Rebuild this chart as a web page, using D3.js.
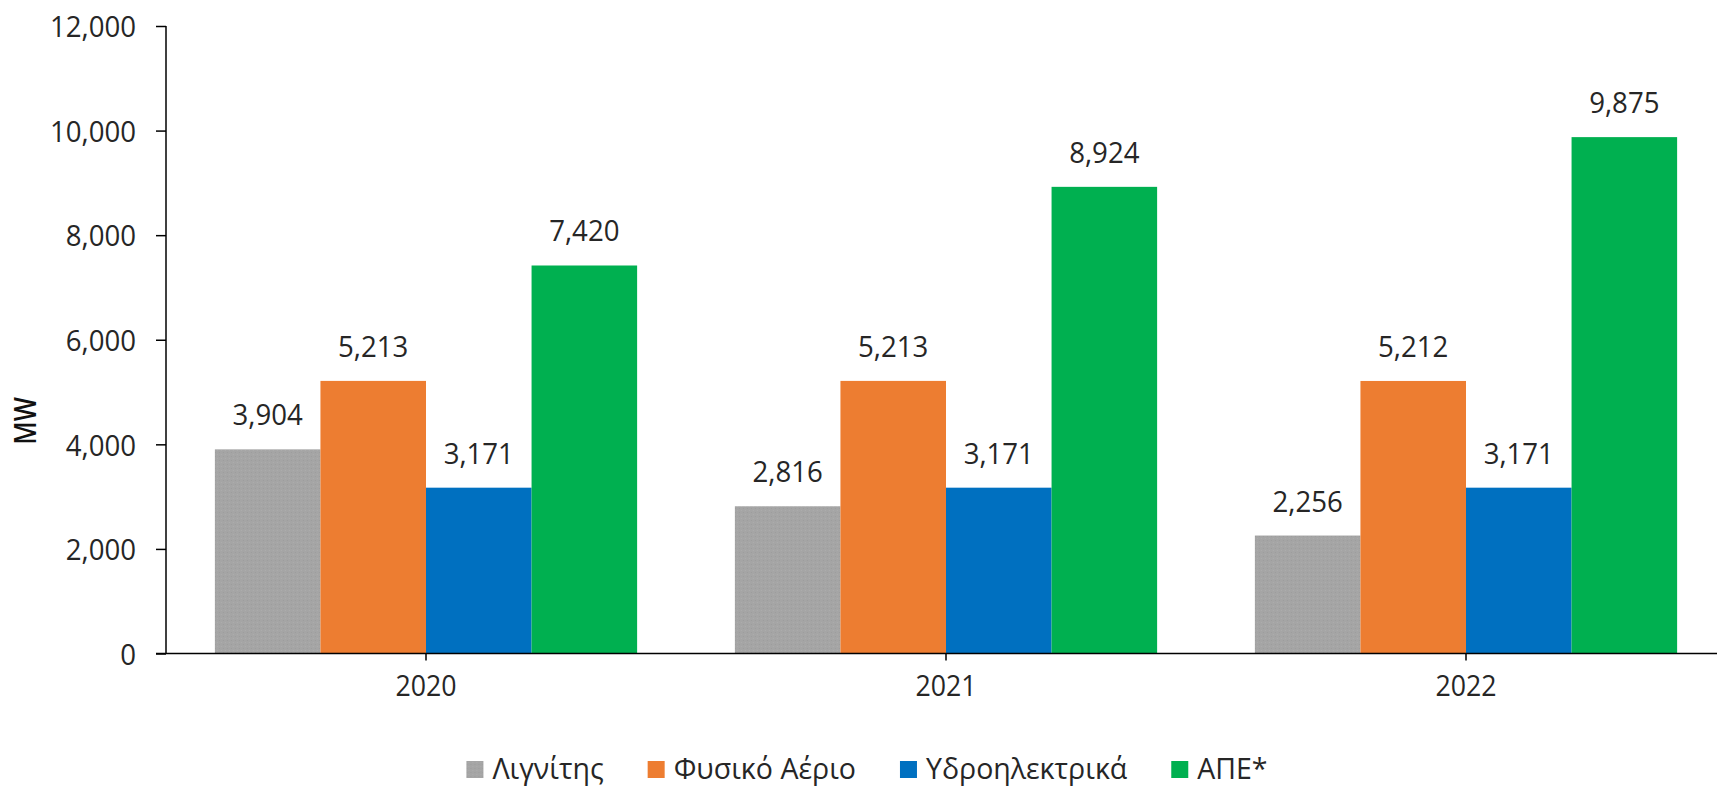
<!DOCTYPE html>
<html>
<head>
<meta charset="utf-8">
<script src="https://cdn.jsdelivr.net/npm/d3@7"></script>
<style>
  html, body { margin: 0; padding: 0; background: #fff; }
  svg { display: block; }
</style>
</head>
<body>
<svg id="chart" width="1717" height="788"></svg>
<script>
// ---- data ----
const years = ["2020", "2021", "2022"];
const seriesNames = ["Λιγνίτης", "Φυσικό Αέριο", "Υδροηλεκτρικά", "ΑΠΕ*"];
const lignite = [3904, 2816, 2256];
const naturalGas = [5213, 5213, 5212];
const hydro = [3171, 3171, 3171];
const renewables = [7420, 8924, 9875];
const seriesColors = ["#A5A5A5", "#ED7D31", "#0070C0", "#00B050"];
const yTicks = [0, 2000, 4000, 6000, 8000, 10000, 12000];
const yTitle = "MW";

const seriesValues = [lignite, naturalGas, hydro, renewables];

(function () {
// ---- layout ----
const svg = d3.select("#chart");
const pLeft = 166, pRight = 1726, pTop = 26, pBottom = 653.5;
const squeeze = 0.89;
const font = "'Open Sans', 'Noto Sans', sans-serif";
const textColor = "#262626";

function condense(sel, f) {
  sel.each(function () {
    const len = this.getComputedTextLength();
    d3.select(this).attr("textLength", len * f).attr("lengthAdjust", "spacingAndGlyphs");
  });
}

const x0 = d3.scaleBand().domain(years).range([pLeft, pRight]).paddingInner(0.188).paddingOuter(0.094);
const x1 = d3.scaleBand().domain(seriesNames).range([0, x0.bandwidth()]).padding(0);
const y = d3.scaleLinear().domain([0, 12000]).range([pBottom, pTop]);

// texture pattern for the grey bars
const defs = svg.append("defs");
const pat = defs.append("pattern").attr("id", "greyTex").attr("patternUnits", "userSpaceOnUse")
  .attr("width", 4).attr("height", 4);
pat.append("rect").attr("width", 4).attr("height", 4).attr("fill", seriesColors[0]);
pat.append("rect").attr("x", 0).attr("y", 0).attr("width", 1).attr("height", 1).attr("fill", "#9c9c9c");
pat.append("rect").attr("x", 2).attr("y", 2).attr("width", 1).attr("height", 1).attr("fill", "#adadad");

// ---- bars ----
const groups = svg.append("g").selectAll("g").data(years).join("g")
  .attr("transform", d => `translate(${x0(d)},0)`);

groups.each(function (yr, yi) {
  const g = d3.select(this);
  const rows = seriesNames.map((s, si) => ({ s, si, v: seriesValues[si][yi] }));
  g.selectAll("rect").data(rows).join("rect")
    .attr("x", d => x1(d.s))
    .attr("y", d => y(d.v))
    .attr("width", x1.bandwidth())
    .attr("height", d => y(0) - y(d.v))
    .attr("fill", d => d.si === 0 ? "url(#greyTex)" : seriesColors[d.si]);
  g.selectAll("text.lbl").data(rows).join("text")
    .attr("class", "lbl")
    .attr("x", d => x1(d.s) + x1.bandwidth() / 2)
    .attr("y", d => y(d.v) - 24)
    .attr("text-anchor", "middle")
    .attr("font-family", font)
    .attr("font-size", 30)
    .attr("fill", textColor)
    .text(d => d3.format(",")(d.v))
    .call(condense, 0.92);
});

// ---- y axis ----
const yAxis = svg.append("g").attr("transform", `translate(${pLeft},0)`)
  .call(d3.axisLeft(y).tickValues(yTicks).tickFormat(d3.format(",")).tickSize(10).tickPadding(20));
yAxis.select(".domain").attr("stroke", "#000").attr("stroke-width", 1.5).attr("d", `M0,${pTop}V${pBottom}`);
yAxis.selectAll(".tick line").attr("stroke", "#000").attr("stroke-width", 1.5);
yAxis.selectAll(".tick text").attr("font-family", font).attr("font-size", 30).attr("fill", textColor)
  .attr("dy", "0.36em").call(condense, 0.92);

// ---- x axis ----
const xAxis = svg.append("g").attr("transform", `translate(0,${pBottom})`)
  .call(d3.axisBottom(x0).tickSize(7).tickSizeOuter(0).tickPadding(14));
xAxis.select(".domain").attr("stroke", "#000").attr("stroke-width", 1.5).attr("d", `M${pLeft - 10},0H${pRight}`);
xAxis.selectAll(".tick line").attr("stroke", "#000").attr("stroke-width", 1.5);
xAxis.selectAll(".tick text").attr("font-family", font).attr("font-size", 30).attr("fill", textColor)
  .attr("dy", "0.71em").call(condense, squeeze);

// ---- y title ----
svg.append("text")
  .attr("transform", `translate(36,421) rotate(-90)`)
  .attr("text-anchor", "middle")
  .attr("font-family", font)
  .attr("font-size", 30)
  .attr("font-weight", 600)
  .attr("fill", "#111")
  .text(yTitle)
  .call(condense, 0.85);

// ---- legend ----
const legend = svg.append("g");
const items = legend.selectAll("g").data(seriesNames).join("g");
items.append("rect").attr("width", 17).attr("height", 17).attr("y", 761)
  .attr("fill", (d, i) => i === 0 ? "url(#greyTex)" : seriesColors[i]);
items.append("text").attr("x", 26).attr("y", 779)
  .attr("font-family", font).attr("font-size", 30).attr("fill", textColor)
  .text(d => d)
  .call(condense, 0.95);
const widths = [];
items.each(function () {
  const t = d3.select(this).select("text");
  const w = +t.attr("textLength");
  widths.push(26 + w);
});
const gap = 44;
const total = d3.sum(widths) + gap * (widths.length - 1);
let start = 867 - total / 2;
items.attr("transform", (d, i) => {
  const t = `translate(${start},0)`;
  start += widths[i] + gap;
  return t;
});
})();
</script>
</body>
</html>
